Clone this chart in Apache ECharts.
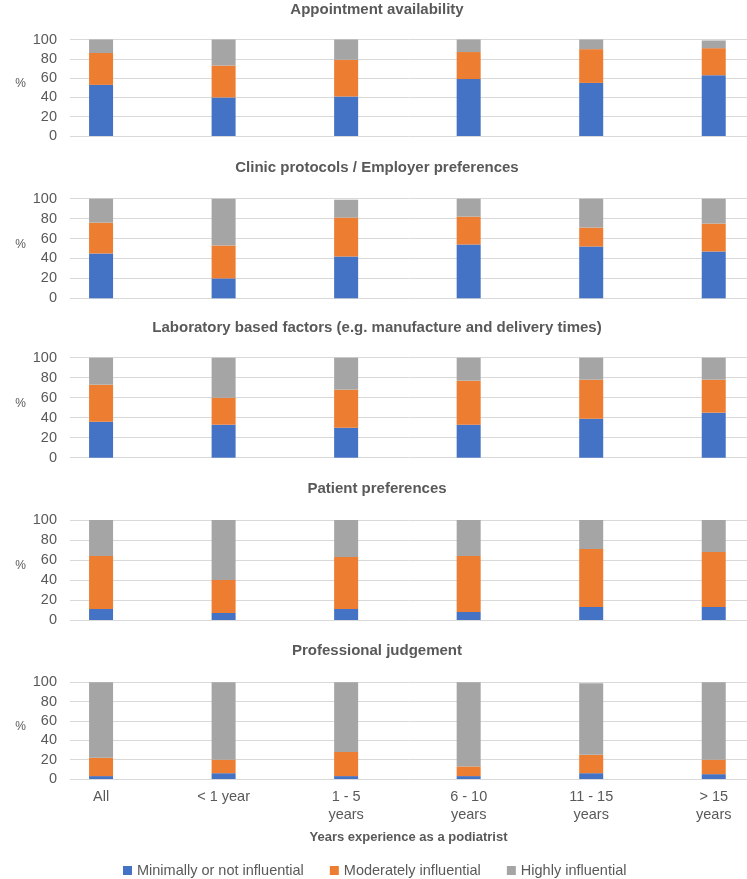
<!DOCTYPE html>
<html>
<head>
<meta charset="utf-8">
<script src="https://cdn.jsdelivr.net/npm/echarts@6/dist/echarts.min.js"></script>
<style>html,body{margin:0;padding:0;background:#fff;overflow:hidden;width:747px;height:879px}#c{width:775px;height:879px}</style>
</head>
<body>
<div id="c"></div>
<script>
const categories = ['All', '< 1 year', '1 - 5\nyears', '6 - 10\nyears', '11 - 15\nyears', '> 15\nyears'];
const panelTitles = [
  'Appointment availability',
  'Clinic protocols / Employer preferences',
  'Laboratory based factors (e.g. manufacture and delivery times)',
  'Patient preferences',
  'Professional judgement'
];
const seriesNames = ['Minimally or not influential', 'Moderately influential', 'Highly influential'];
// values per panel (percent)
const minimallyInfluential = [
  [53, 40, 41, 59, 55, 63],
  [45, 20, 42, 54, 52, 47],
  [36, 33, 30, 33, 39, 45],
  [11, 7, 11, 8, 13, 13],
  [3, 6, 3, 3, 6, 5]
];
const moderatelyInfluential = [
  [33, 33, 38, 28, 35, 28],
  [31, 33, 39, 28, 19, 28],
  [37, 27, 38, 44, 39, 33],
  [53, 33, 52, 56, 58, 55],
  [19, 14, 25, 10, 19, 15]
];
const highlyInfluential = [
  [15, 27, 21, 13, 10, 8],
  [24, 47, 18, 18, 29, 25],
  [27, 40, 32, 23, 23, 22],
  [36, 60, 37, 36, 29, 32],
  [78, 80, 72, 87, 74, 80]
];
const yMin = 0, yMax = 100, yInterval = 20;
const yAxisLabel = '%';
const xAxisTitle = 'Years experience as a podiatrist';

const colors = ['#4472C4', '#ED7D31', '#A5A5A5'];
const font = 'Liberation Sans, Arial, sans-serif';
const textColor = '#595959';
const plotTops = [39.5, 198.7, 357.7, 520, 682.3];
const plotBottoms = [136, 298.3, 457.7, 620, 779];
const titleCenters = [10, 168.2, 328, 489.2, 651.8];

const grids = [], xAxes = [], yAxes = [], series = [], titles = [];
const allValues = [minimallyInfluential, moderatelyInfluential, highlyInfluential];

for (let p = 0; p < panelTitles.length; p++) {
  const top = plotTops[p], h = plotBottoms[p] - plotTops[p];
  const last = p === panelTitles.length - 1;
  titles.push({
    text: panelTitles[p], left: 377, textAlign: 'center', top: titleCenters[p] - 8, padding: 0,
    textStyle: { fontFamily: font, fontSize: 15, fontWeight: 'bold', color: textColor }
  });
  // grid A: gridlines + y labels (ends at the visible right edge)
  grids.push({ left: 70, right: 28, top: top, height: h, containLabel: false });
  // grid B: bars (category bands of ~122.5px, extending past the visible edge)
  grids.push({ left: 39.8, right: 0, top: top, height: h, containLabel: false });
  const a = 2 * p, b = 2 * p + 1;
  xAxes.push({
    gridIndex: a, type: 'category', data: categories, show: last,
    axisLine: { show: false }, axisTick: { show: false }, axisLabel: { show: false },
    name: last ? xAxisTitle : '', nameLocation: 'middle', nameGap: 52,
    nameTextStyle: { fontFamily: font, fontSize: 13, fontWeight: 'bold', color: textColor }
  });
  xAxes.push({
    gridIndex: b, type: 'category', data: categories,
    axisLine: { show: false }, axisTick: { show: false },
    axisLabel: { show: last, margin: 9, fontFamily: font, fontSize: 14.5, lineHeight: 18, color: textColor, interval: 0 }
  });
  yAxes.push({
    gridIndex: a, type: 'value', min: yMin, max: yMax, interval: yInterval,
    axisLine: { show: false }, axisTick: { show: false },
    axisLabel: { margin: 13, fontFamily: font, fontSize: 14.5, color: textColor },
    splitLine: { lineStyle: { color: '#D9D9D9', width: 1 } },
    name: yAxisLabel, nameLocation: 'middle', nameRotate: 0, nameGap: 44,
    nameTextStyle: { fontFamily: font, fontSize: 12, lineHeight: 8, color: textColor, verticalAlign: 'bottom' }
  });
  yAxes.push({
    gridIndex: b, type: 'value', min: yMin, max: yMax, show: false,
    splitLine: { show: false }
  });
  for (let s = 0; s < 3; s++) {
    series.push({
      type: 'bar', name: seriesNames[s], stack: 'panel' + p,
      xAxisIndex: b, yAxisIndex: b, barWidth: 24,
      itemStyle: { color: colors[s] },
      data: allValues[s][p]
    });
  }
}

const chart = echarts.init(document.getElementById('c'), null, { renderer: 'canvas' });
chart.setOption({
  animation: false,
  backgroundColor: '#fff',
  title: titles,
  grid: grids,
  xAxis: xAxes,
  yAxis: yAxes,
  legend: {
    data: seriesNames, left: 123, top: 863, icon: 'rect', itemWidth: 9, itemHeight: 9, itemGap: 26,
    padding: 0,
    textStyle: { fontFamily: font, fontSize: 14.5, color: textColor }
  },
  series: series
});
</script>
</body>
</html>
